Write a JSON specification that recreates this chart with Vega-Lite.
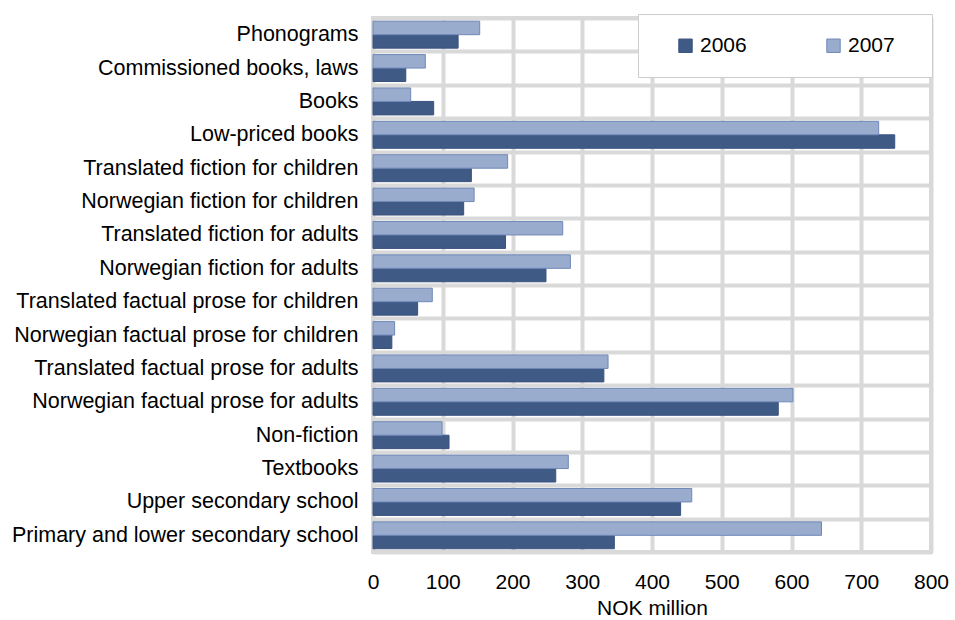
{
  "$schema": "https://vega.github.io/schema/vega-lite/v6.json",
  "width": 558,
  "height": 534,
  "autosize": {"type": "pad"},
  "padding": {"left": 11, "top": 7, "right": 5, "bottom": 0},
  "background": "white",
  "config": {
    "font": "Liberation Sans",
    "view": {"stroke": "#d9d9d9", "strokeWidth": 4}
  },
  "data": {
    "values": [
      {"cat": "Phonograms", "year": "2006", "value": 122},
      {"cat": "Phonograms", "year": "2007", "value": 153},
      {"cat": "Commissioned books, laws", "year": "2006", "value": 47},
      {"cat": "Commissioned books, laws", "year": "2007", "value": 75},
      {"cat": "Books", "year": "2006", "value": 87},
      {"cat": "Books", "year": "2007", "value": 54},
      {"cat": "Low-priced books", "year": "2006", "value": 748},
      {"cat": "Low-priced books", "year": "2007", "value": 725},
      {"cat": "Translated fiction for children", "year": "2006", "value": 141},
      {"cat": "Translated fiction for children", "year": "2007", "value": 193},
      {"cat": "Norwegian fiction for children", "year": "2006", "value": 130},
      {"cat": "Norwegian fiction for children", "year": "2007", "value": 145},
      {"cat": "Translated fiction for adults", "year": "2006", "value": 190},
      {"cat": "Translated fiction for adults", "year": "2007", "value": 272},
      {"cat": "Norwegian fiction for adults", "year": "2006", "value": 248},
      {"cat": "Norwegian fiction for adults", "year": "2007", "value": 283},
      {"cat": "Translated factual prose for children", "year": "2006", "value": 64},
      {"cat": "Translated factual prose for children", "year": "2007", "value": 85},
      {"cat": "Norwegian factual prose for children", "year": "2006", "value": 27},
      {"cat": "Norwegian factual prose for children", "year": "2007", "value": 31},
      {"cat": "Translated factual prose for adults", "year": "2006", "value": 331},
      {"cat": "Translated factual prose for adults", "year": "2007", "value": 337},
      {"cat": "Norwegian factual prose for adults", "year": "2006", "value": 581},
      {"cat": "Norwegian factual prose for adults", "year": "2007", "value": 602},
      {"cat": "Non-fiction", "year": "2006", "value": 109},
      {"cat": "Non-fiction", "year": "2007", "value": 99},
      {"cat": "Textbooks", "year": "2006", "value": 262},
      {"cat": "Textbooks", "year": "2007", "value": 280},
      {"cat": "Upper secondary school", "year": "2006", "value": 441},
      {"cat": "Upper secondary school", "year": "2007", "value": 457},
      {"cat": "Primary and lower secondary school", "year": "2006", "value": 346},
      {"cat": "Primary and lower secondary school", "year": "2007", "value": 643}
    ]
  },
  "mark": {"type": "bar", "strokeWidth": 1},
  "encoding": {
    "y": {
      "field": "cat",
      "type": "nominal",
      "sort": null,
      "scale": {"paddingInner": 0, "paddingOuter": 0},
      "axis": {
        "title": null,
        "ticks": false,
        "domain": false,
        "grid": true,
        "tickBand": "extent",
        "gridColor": "#d9d9d9",
        "gridWidth": 4,
        "labelFontSize": 21.5,
        "labelColor": "#000000",
        "labelPadding": 15,
        "labelLimit": 0
      }
    },
    "yOffset": {
      "field": "year",
      "type": "nominal",
      "sort": ["2007", "2006"],
      "scale": {"paddingInner": 0, "paddingOuter": 0.24}
    },
    "x": {
      "field": "value",
      "type": "quantitative",
      "scale": {"domain": [0, 800], "nice": false},
      "axis": {
        "title": "NOK million",
        "values": [0, 100, 200, 300, 400, 500, 600, 700, 800],
        "grid": true,
        "gridColor": "#d9d9d9",
        "gridWidth": 4,
        "ticks": false,
        "domain": false,
        "labelFontSize": 21,
        "labelColor": "#000000",
        "labelPadding": 19,
        "labelFlush": false,
        "titleFontSize": 21,
        "titleFontWeight": "normal",
        "titleColor": "#000000",
        "titlePadding": 5
      }
    },
    "color": {
      "field": "year",
      "type": "nominal",
      "scale": {"domain": ["2006", "2007"], "range": ["#3f5a85", "#99acce"]},
      "legend": {
        "title": "\u00a0",
        "titleOrient": "right",
        "titlePadding": 16,
        "titleFontSize": 2,
        "orient": "none",
        "legendX": 265,
        "legendY": -4,
        "direction": "horizontal",
        "fillColor": "white",
        "strokeColor": "#cccccc",
        "padding": 21,
        "symbolType": "square",
        "symbolSize": 180,
        "symbolOffset": 16,
        "symbolStrokeColor": "#6f86b5",
        "symbolStrokeWidth": 1,
        "labelFontSize": 21,
        "labelColor": "#000000",
        "labelOffset": 4,
        "columnPadding": 60
      }
    },
    "stroke": {
      "field": "year",
      "type": "nominal",
      "scale": {"domain": ["2006", "2007"], "range": ["#3a5280", "#7088b8"]},
      "legend": null
    }
  }
}
